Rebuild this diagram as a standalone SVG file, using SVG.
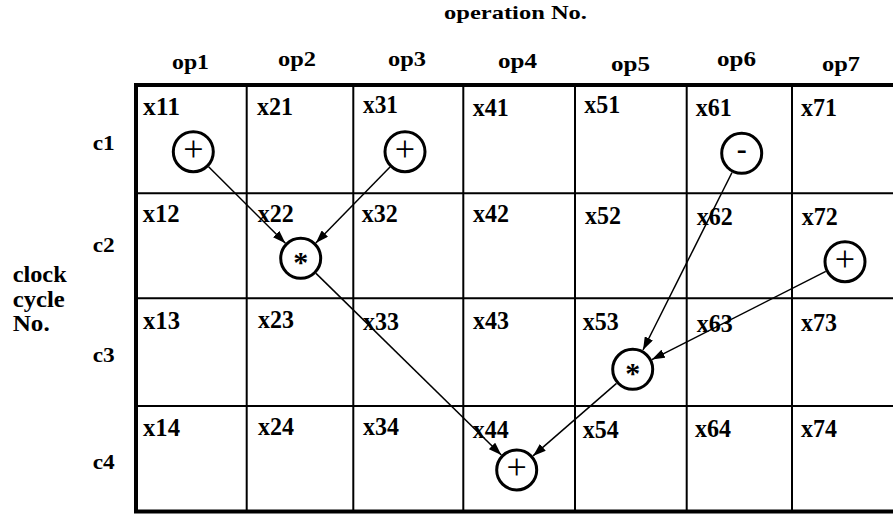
<svg xmlns="http://www.w3.org/2000/svg" width="893" height="515" viewBox="0 0 893 515">
  <style>
    .t { font-family: "Liberation Serif", "Times New Roman", serif; font-weight: bold; fill: #000; }
    .hdr { font-size: 21px; }
    .title { font-size: 19px; }
    .cell { font-size: 25px; }
    .row { font-size: 22px; }
    .ttl { font-size: 23px; }
    .grid { stroke: #000; stroke-width: 2; fill: none; }
    .frame { stroke: #000; stroke-width: 4; fill: none; }
    .op { fill: #fff; stroke: #000; stroke-width: 3; }
    .sym { font-family: "Liberation Serif", "Times New Roman", serif; fill: #000; text-anchor: middle; }
    .plus { font-size: 36px; font-weight: normal; }
    .star { font-size: 30px; font-weight: bold; }
    .minus { font-size: 30px; font-weight: bold; }
    .edge { stroke: #000; stroke-width: 1.5; fill: none; marker-end: url(#arrow); }
  </style>
  <defs>
    <marker id="arrow" markerUnits="userSpaceOnUse" markerWidth="13" markerHeight="9" refX="13" refY="4.5" orient="auto">
      <path d="M0,0 L13,4.5 L0,9 z" fill="#000"/>
    </marker>
  </defs>

  <rect width="893" height="515" fill="#fff"/>

  <!-- axis titles -->
  <text class="t title" x="444" y="18.5" textLength="143" lengthAdjust="spacingAndGlyphs">operation No.</text>
  <g id="axis-y">
    <text class="t ttl" x="12.7" y="282" textLength="54" lengthAdjust="spacingAndGlyphs">clock</text>
    <text class="t ttl" x="12.7" y="307" textLength="52" lengthAdjust="spacingAndGlyphs">cycle</text>
    <text class="t ttl" x="12.7" y="331" textLength="37" lengthAdjust="spacingAndGlyphs">No.</text>
  </g>

  <!-- column headers -->
  <g id="col-headers">
    <text class="t hdr" x="172" y="69" textLength="37" lengthAdjust="spacingAndGlyphs">op1</text>
    <text class="t hdr" x="278" y="66" textLength="38" lengthAdjust="spacingAndGlyphs">op2</text>
    <text class="t hdr" x="388" y="66" textLength="38" lengthAdjust="spacingAndGlyphs">op3</text>
    <text class="t hdr" x="498" y="68" textLength="39" lengthAdjust="spacingAndGlyphs">op4</text>
    <text class="t hdr" x="611" y="71" textLength="39" lengthAdjust="spacingAndGlyphs">op5</text>
    <text class="t hdr" x="717" y="66" textLength="39" lengthAdjust="spacingAndGlyphs">op6</text>
    <text class="t hdr" x="822" y="71" textLength="38" lengthAdjust="spacingAndGlyphs">op7</text>
  </g>

  <!-- row headers -->
  <g id="row-headers">
    <text class="t row" x="92.7" y="150" textLength="22" lengthAdjust="spacingAndGlyphs">c1</text>
    <text class="t row" x="92.7" y="252" textLength="22" lengthAdjust="spacingAndGlyphs">c2</text>
    <text class="t row" x="92.7" y="362" textLength="22" lengthAdjust="spacingAndGlyphs">c3</text>
    <text class="t row" x="92.7" y="469" textLength="22" lengthAdjust="spacingAndGlyphs">c4</text>
  </g>

  <!-- schedule grid -->
  <g id="grid">
    <path class="grid" d="M246.7,85 V511.5 M353.3,85 V511.5 M463.3,85 V511.5 M575,85 V511.5 M686.7,85 V511.5 M792,85 V511.5
                          M136,193.3 H900 M136,298.3 H900 M136,406 H900"/>
    <rect class="frame" x="136" y="85" width="770" height="426.5"/>
  </g>

  <!-- cell labels -->
  <g id="cell-labels" class="t cell">
    <text x="143" y="115" textLength="37" lengthAdjust="spacingAndGlyphs">x11</text>
    <text x="257" y="115" textLength="36" lengthAdjust="spacingAndGlyphs">x21</text>
    <text x="363" y="113" textLength="35" lengthAdjust="spacingAndGlyphs">x31</text>
    <text x="472.7" y="115.7" textLength="36" lengthAdjust="spacingAndGlyphs">x41</text>
    <text x="584.3" y="113.3" textLength="36" lengthAdjust="spacingAndGlyphs">x51</text>
    <text x="695.7" y="115.7" textLength="36" lengthAdjust="spacingAndGlyphs">x61</text>
    <text x="801" y="115.7" textLength="36" lengthAdjust="spacingAndGlyphs">x71</text>

    <text x="142.7" y="221.7" textLength="37" lengthAdjust="spacingAndGlyphs">x12</text>
    <text x="257.7" y="222" textLength="36" lengthAdjust="spacingAndGlyphs">x22</text>
    <text x="361.7" y="222" textLength="36" lengthAdjust="spacingAndGlyphs">x32</text>
    <text x="473" y="222" textLength="36" lengthAdjust="spacingAndGlyphs">x42</text>
    <text x="585" y="224" textLength="36" lengthAdjust="spacingAndGlyphs">x52</text>
    <text x="696.7" y="225" textLength="36" lengthAdjust="spacingAndGlyphs">x62</text>
    <text x="801.7" y="225" textLength="36" lengthAdjust="spacingAndGlyphs">x72</text>

    <text x="143" y="329" textLength="37" lengthAdjust="spacingAndGlyphs">x13</text>
    <text x="258" y="328" textLength="36" lengthAdjust="spacingAndGlyphs">x23</text>
    <text x="363" y="330" textLength="36" lengthAdjust="spacingAndGlyphs">x33</text>
    <text x="473" y="329" textLength="36" lengthAdjust="spacingAndGlyphs">x43</text>
    <text x="582.7" y="330" textLength="36" lengthAdjust="spacingAndGlyphs">x53</text>
    <text x="696.7" y="331.7" textLength="36" lengthAdjust="spacingAndGlyphs">x63</text>
    <text x="801" y="331" textLength="36" lengthAdjust="spacingAndGlyphs">x73</text>

    <text x="143" y="436" textLength="37" lengthAdjust="spacingAndGlyphs">x14</text>
    <text x="258" y="435" textLength="36" lengthAdjust="spacingAndGlyphs">x24</text>
    <text x="363" y="435" textLength="36" lengthAdjust="spacingAndGlyphs">x34</text>
    <text x="472.7" y="437.7" textLength="36" lengthAdjust="spacingAndGlyphs">x44</text>
    <text x="582.7" y="437.7" textLength="36" lengthAdjust="spacingAndGlyphs">x54</text>
    <text x="695" y="437" textLength="36" lengthAdjust="spacingAndGlyphs">x64</text>
    <text x="801" y="437" textLength="36" lengthAdjust="spacingAndGlyphs">x74</text>
  </g>

  <!-- data-flow connectors -->
  <g id="connectors">
    <line class="edge" x1="208.6" y1="166.8" x2="285.4" y2="243.2"/>
    <line class="edge" x1="390" y1="167.1" x2="315.8" y2="242.9"/>
    <line class="edge" x1="316" y1="273.4" x2="501.3" y2="455"/>
    <line class="edge" x1="732" y1="172.5" x2="643" y2="350"/>
    <line class="edge" x1="825.8" y1="271.4" x2="651.9" y2="359.6"/>
    <line class="edge" x1="616.5" y1="383.4" x2="533" y2="455.9"/>
  </g>

  <!-- operation nodes -->
  <g id="op-x11">
    <circle class="op" cx="193.3" cy="151.7" r="20"/>
    <text class="sym plus" x="193.3" y="160.8">+</text>
  </g>
  <g id="op-x31">
    <circle class="op" cx="405" cy="151.7" r="20"/>
    <text class="sym plus" x="405" y="160.8">+</text>
  </g>
  <g id="op-x61">
    <circle class="op" cx="741.7" cy="153.3" r="20"/>
    <text class="sym minus" x="741.7" y="158.5">-</text>
  </g>
  <g id="op-x22">
    <circle class="op" cx="300.7" cy="258.3" r="20"/>
    <text class="sym star" x="300.7" y="272">*</text>
  </g>
  <g id="op-x72">
    <circle class="op" cx="845" cy="261.7" r="20"/>
    <text class="sym plus" x="845" y="270.8">+</text>
  </g>
  <g id="op-x53">
    <circle class="op" cx="632.7" cy="369.3" r="20"/>
    <text class="sym star" x="632.7" y="383">*</text>
  </g>
  <g id="op-x44">
    <circle class="op" cx="516.7" cy="470" r="20"/>
    <text class="sym plus" x="516.7" y="479.1">+</text>
  </g>
</svg>
